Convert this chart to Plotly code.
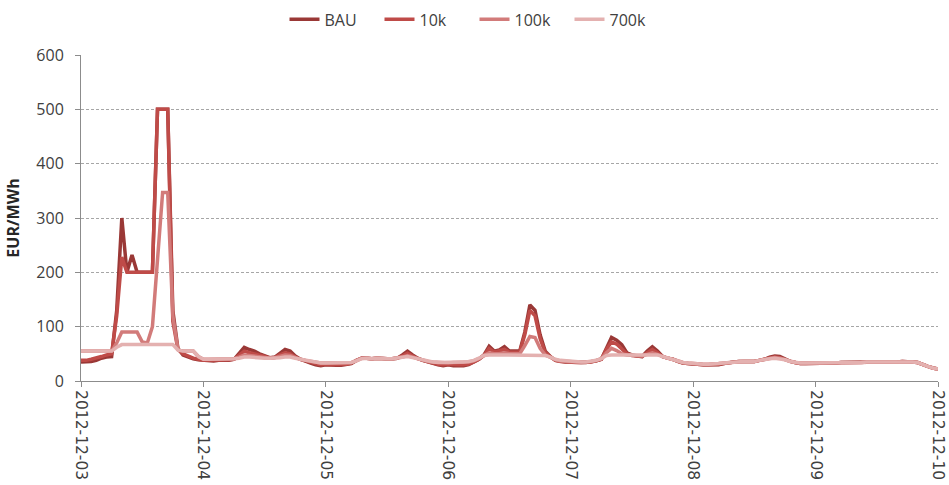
import pandas as pd
import plotly.graph_objects as go

# Hourly timestamps, 2012-12-03 00:00 through 2012-12-10 00:00
hours = pd.date_range("2012-12-03 00:00", "2012-12-10 00:00", freq="h")

# Hourly prices (EUR/MWh) per scenario, one row per day
bau = [
    35, 35, 36, 38, 42, 44, 45, 130, 300, 200, 232, 200, 200, 200, 200, 500, 500, 500, 130, 60, 48, 44, 41, 39,
    38, 37, 37, 38, 38, 38, 40, 50, 62, 58, 55, 50, 47, 43, 44, 52, 58, 55, 46, 40, 36, 33, 30, 28,
    30, 29, 29, 29, 30, 32, 38, 42, 42, 41, 42, 41, 41, 41, 42, 48, 55, 48, 42, 38, 35, 32, 30, 28,
    30, 28, 28, 28, 30, 35, 40, 48, 64, 55, 57, 63, 55, 55, 55, 90, 140, 130, 85, 55, 45, 38, 36, 35,
    35, 34, 34, 34, 35, 37, 40, 62, 80, 75, 67, 52, 48, 46, 45, 55, 63, 55, 45, 42, 40, 36, 33, 32,
    31, 30, 30, 30, 30, 30, 32, 34, 35, 36, 36, 36, 36, 38, 40, 44, 46, 45, 40, 36, 34, 32, 32, 32,
    32, 33, 33, 33, 33, 34, 34, 34, 34, 34, 35, 35, 35, 35, 35, 35, 35, 36, 36, 35, 34, 30, 27, 24,
    22,
]
s10k = [
    38, 38, 40, 42, 45, 48, 50, 120, 228, 200, 200, 200, 200, 200, 200, 500, 500, 500, 110, 58, 50, 46, 42, 40,
    38, 38, 38, 38, 39, 39, 40, 47, 55, 52, 50, 47, 45, 42, 43, 48, 52, 50, 44, 40, 37, 34, 32, 30,
    31, 30, 30, 30, 31, 33, 38, 42, 42, 41, 42, 41, 41, 41, 42, 46, 51, 46, 41, 38, 35, 33, 31, 30,
    31, 30, 30, 30, 31, 35, 40, 47, 60, 53, 55, 58, 53, 53, 53, 85, 130, 120, 78, 52, 44, 38, 36, 35,
    35, 34, 34, 34, 35, 37, 40, 58, 72, 68, 60, 50, 47, 46, 45, 52, 58, 52, 45, 42, 40, 36, 33, 32,
    31, 30, 30, 30, 30, 31, 32, 34, 35, 36, 36, 36, 36, 38, 40, 43, 44, 43, 39, 36, 34, 32, 32, 32,
    32, 33, 33, 33, 33, 34, 34, 34, 34, 34, 35, 35, 35, 35, 35, 35, 35, 36, 36, 35, 34, 30, 27, 24,
    22,
]
s100k = [
    55, 55, 55, 55, 55, 55, 55, 70, 90, 90, 90, 90, 72, 70, 100, 230, 347, 347, 120, 58, 55, 55, 55, 45,
    40, 40, 40, 40, 40, 40, 41, 44, 48, 47, 46, 45, 43, 42, 43, 46, 48, 47, 43, 40, 38, 36, 34, 33,
    33, 33, 33, 33, 33, 34, 38, 42, 42, 41, 42, 41, 41, 41, 42, 44, 47, 44, 41, 38, 36, 35, 34, 33,
    33, 34, 34, 34, 35, 37, 41, 47, 52, 50, 50, 52, 50, 50, 50, 65, 82, 80, 60, 48, 44, 39, 37, 36,
    36, 35, 35, 35, 36, 38, 41, 52, 60, 56, 50, 48, 47, 46, 46, 49, 52, 49, 45, 42, 40, 37, 34, 33,
    32, 31, 31, 31, 31, 32, 33, 34, 35, 36, 36, 36, 36, 38, 40, 42, 43, 42, 39, 36, 34, 33, 33, 33,
    33, 33, 33, 33, 33, 34, 34, 34, 34, 34, 35, 35, 35, 35, 35, 35, 35, 36, 36, 35, 34, 30, 27, 24,
    22,
]
s700k = [
    55, 55, 55, 55, 55, 55, 55, 62, 67, 67, 67, 67, 67, 67, 67, 67, 67, 67, 67, 57, 55, 55, 55, 45,
    40, 40, 40, 40, 40, 40, 41, 42, 44, 44, 43, 43, 42, 42, 42, 43, 44, 44, 42, 40, 38, 36, 34, 33,
    33, 33, 33, 33, 33, 34, 37, 41, 42, 41, 42, 41, 41, 41, 42, 43, 45, 43, 41, 38, 36, 35, 34, 34,
    34, 35, 35, 35, 36, 38, 42, 47, 48, 48, 48, 48, 48, 48, 48, 48, 48, 48, 48, 47, 44, 40, 38, 37,
    36, 35, 35, 35, 36, 38, 41, 47, 48, 48, 48, 48, 48, 48, 48, 48, 48, 48, 45, 42, 40, 37, 34, 33,
    32, 31, 31, 31, 31, 32, 33, 34, 35, 36, 36, 36, 36, 38, 40, 41, 42, 41, 39, 36, 34, 33, 33, 33,
    33, 33, 33, 33, 33, 34, 34, 34, 34, 34, 35, 35, 35, 35, 35, 35, 35, 36, 36, 35, 34, 30, 27, 24,
    22,
]

series = [
    ("BAU", bau, "#9A3836"),
    ("10k", s10k, "#BF4B48"),
    ("100k", s100k, "#D27B7A"),
    ("700k", s700k, "#E4B1B0"),
]

fig = go.Figure()
for name, values, color in series:
    fig.add_trace(go.Scatter(
        x=hours, y=values, name=name, mode="lines",
        line=dict(color=color, width=3.5),
    ))

fig.update_layout(
    width=949, height=485,
    margin=dict(l=81, r=11, t=55, b=104, autoexpand=False),
    paper_bgcolor="white", plot_bgcolor="white",
    font=dict(family="Open Sans", size=16, color="#404040"),
    legend=dict(
        orientation="h", xref="container", x=0.5, xanchor="center",
        yref="container", y=0.995, yanchor="top",
        font=dict(size=16, color="#404040"),
        traceorder="normal", entrywidth=50, itemwidth=30,
    ),
    showlegend=True,
)

fig.update_xaxes(
    type="date",
    range=["2012-12-03", "2012-12-10"],
    dtick=86400000, tick0="2012-12-03",
    tickformat="%Y-%m-%d", tickangle=90,
    tickfont=dict(family="DejaVu Sans", size=15.5, color="#404040"),
    showline=True, linecolor="#8C8C8C", linewidth=1,
    ticks="outside", ticklen=5, tickcolor="#8C8C8C",
    showgrid=False, zeroline=False,
)
fig.update_yaxes(
    range=[0, 600], dtick=100,
    tickfont=dict(family="Open Sans", size=16, color="#404040"),
    ticklabelstandoff=8,
    showline=True, linecolor="#8C8C8C", linewidth=1,
    ticks="outside", ticklen=5, tickcolor="#8C8C8C",
    showgrid=True, gridcolor="#A6A6A6", gridwidth=1, griddash="3px,2px",
    zeroline=False,
    title=dict(text="<b>EUR/MWh</b>", font=dict(family="Open Sans", size=16, color="#262626"), standoff=12),
)

fig.write_html("out.html")
